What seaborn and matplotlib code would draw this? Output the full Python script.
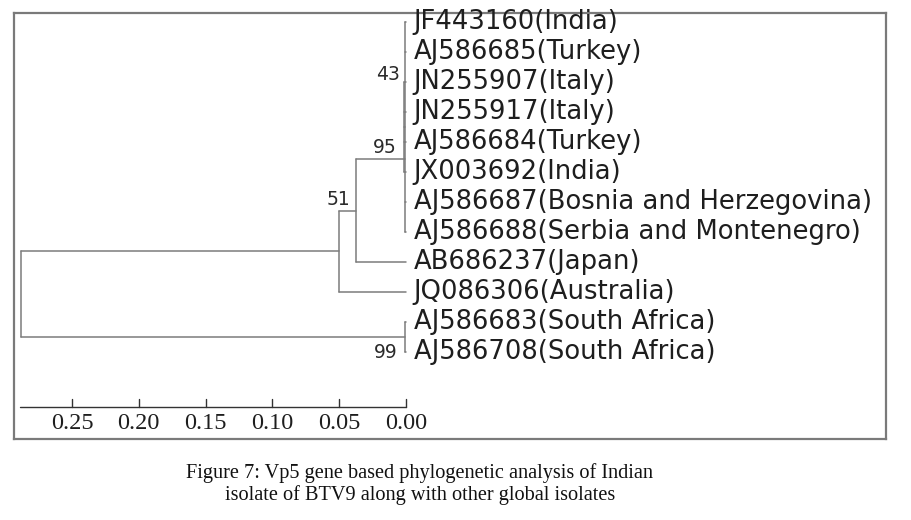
#!/usr/bin/env python3
"""
Vp5 gene phylogenetic tree (BTV9) redrawn with seaborn.
"""

import numpy as np
import pandas as pd
import matplotlib
matplotlib.use('Agg')
import matplotlib.pyplot as plt
import seaborn as sns

sns.set_theme(style='white')
plt.rcParams['font.family'] = ['DejaVu Sans']

# tips, top to bottom
leaves = ['JF443160(India)', 'AJ586685(Turkey)', 'JN255907(Italy)', 'JN255917(Italy)',
          'AJ586684(Turkey)', 'JX003692(India)', 'AJ586687(Bosnia and Herzegovina)',
          'AJ586688(Serbia and Montenegro)', 'AB686237(Japan)', 'JQ086306(Australia)',
          'AJ586683(South Africa)', 'AJ586708(South Africa)']

# internal nodes: distance from the tips and children
node_names = ['n43', 'nX', 'n95', 'n51', 'nSA', 'root']
node_depth = [0.0018, 0.0010, 0.0374, 0.0501, 0.0010, 0.2882]
node_children = [
    ['JN255907(Italy)', 'JN255917(Italy)', 'AJ586684(Turkey)', 'JX003692(India)'],
    ['JF443160(India)', 'AJ586685(Turkey)', 'n43', 'AJ586687(Bosnia and Herzegovina)',
     'AJ586688(Serbia and Montenegro)'],
    ['nX', 'AB686237(Japan)'],
    ['n95', 'JQ086306(Australia)'],
    ['AJ586683(South Africa)', 'AJ586708(South Africa)'],
    ['n51', 'nSA'],
]
node_y_read = {'nX': 4.57}   # junction not at the midpoint in the original

# bootstrap values
boot_nodes = ['n43', 'nX', 'n95', 'nSA']
boot_values = [43, 95, 51, 99]

scale_ticks = [0.25, 0.20, 0.15, 0.10, 0.05, 0.00]
caption = ('Figure 7: Vp5 gene based phylogenetic analysis of Indian\n'
           'isolate of BTV9 along with other global isolates')

# ---- tree geometry ----
pos = {name: (0.0, i) for i, name in enumerate(leaves)}
for name, depth, kids in zip(node_names, node_depth, node_children):
    ys = [pos[k][1] for k in kids]
    y = node_y_read.get(name, (min(ys) + max(ys)) / 2)
    pos[name] = (depth, y)

rows = []
seg = 0
for name, depth, kids in zip(node_names, node_depth, node_children):
    ys = [pos[k][1] for k in kids]
    rows += [(seg, depth, min(ys)), (seg, depth, max(ys))]
    seg += 1
    for k in kids:
        kx, ky = pos[k]
        rows += [(seg, depth, ky), (seg, kx, ky)]
        seg += 1
segs = pd.DataFrame(rows, columns=['seg', 'dist', 'row'])

# ---- figure ----
W, H = 912, 520
fig = plt.figure(figsize=(W / 100, H / 100), dpi=100)
box_l, box_r, box_t, box_b = 14, 886, 13, 439
ax = fig.add_axes([box_l / W, 1 - box_b / H, (box_r - box_l) / W, (box_b - box_t) / H])

line_col = '#7c7c7c'
sns.lineplot(data=segs, x='dist', y='row', units='seg', estimator=None, sort=False,
             color=line_col, linewidth=1.1, ax=ax, legend=False)

# leaf labels
for i, name in enumerate(leaves):
    ax.text(-0.0058, i, name, ha='left', va='center', fontsize=18.6, color='#1e1e1e')

# bootstrap labels (anchor positions)
boot_anchor = {'n43': (0.0045, 1.75), 'nX': (0.0067, 4.18),
               'n95': (0.0420, 5.92), 'nSA': (0.0060, 11.03)}
for nd, val in zip(boot_nodes, boot_values):
    bx, by = boot_anchor[nd]
    ax.text(bx, by, str(val), ha='right', va='center', fontsize=13.5, color='#2a2a2a')

# scale bar
bar_y = 12.83
ax.plot([0.2889, 0.0], [bar_y, bar_y], color='#333333', linewidth=1.0)
for t in scale_ticks:
    ax.plot([t, t], [bar_y, bar_y - 0.27], color='#333333', linewidth=1.0)
    ax.text(t, bar_y + 0.55, f'{t:.2f}', ha='center', va='center',
            fontsize=17.5, family='Liberation Serif', color='#1e1e1e')

px_per_unit = 1336.0
ax.set_xlim((406 - box_l) / px_per_unit, (406 - box_r) / px_per_unit)
ax.set_ylim((box_b - 22) / 30.0, (box_t - 22) / 30.0)
ax.set_xticks([])
ax.set_yticks([])
ax.set_xlabel('')
ax.set_ylabel('')
for sp in ax.spines.values():
    sp.set_visible(True)
    sp.set_color('#7a7a7a')
    sp.set_linewidth(1.6)

fig.text(420 / W, 1 - 484 / H, caption, ha='center', va='center', fontsize=14.6,
         family='Liberation Serif', color='#111111', linespacing=1.2)

fig.savefig('out.png', dpi=100, facecolor='white')
